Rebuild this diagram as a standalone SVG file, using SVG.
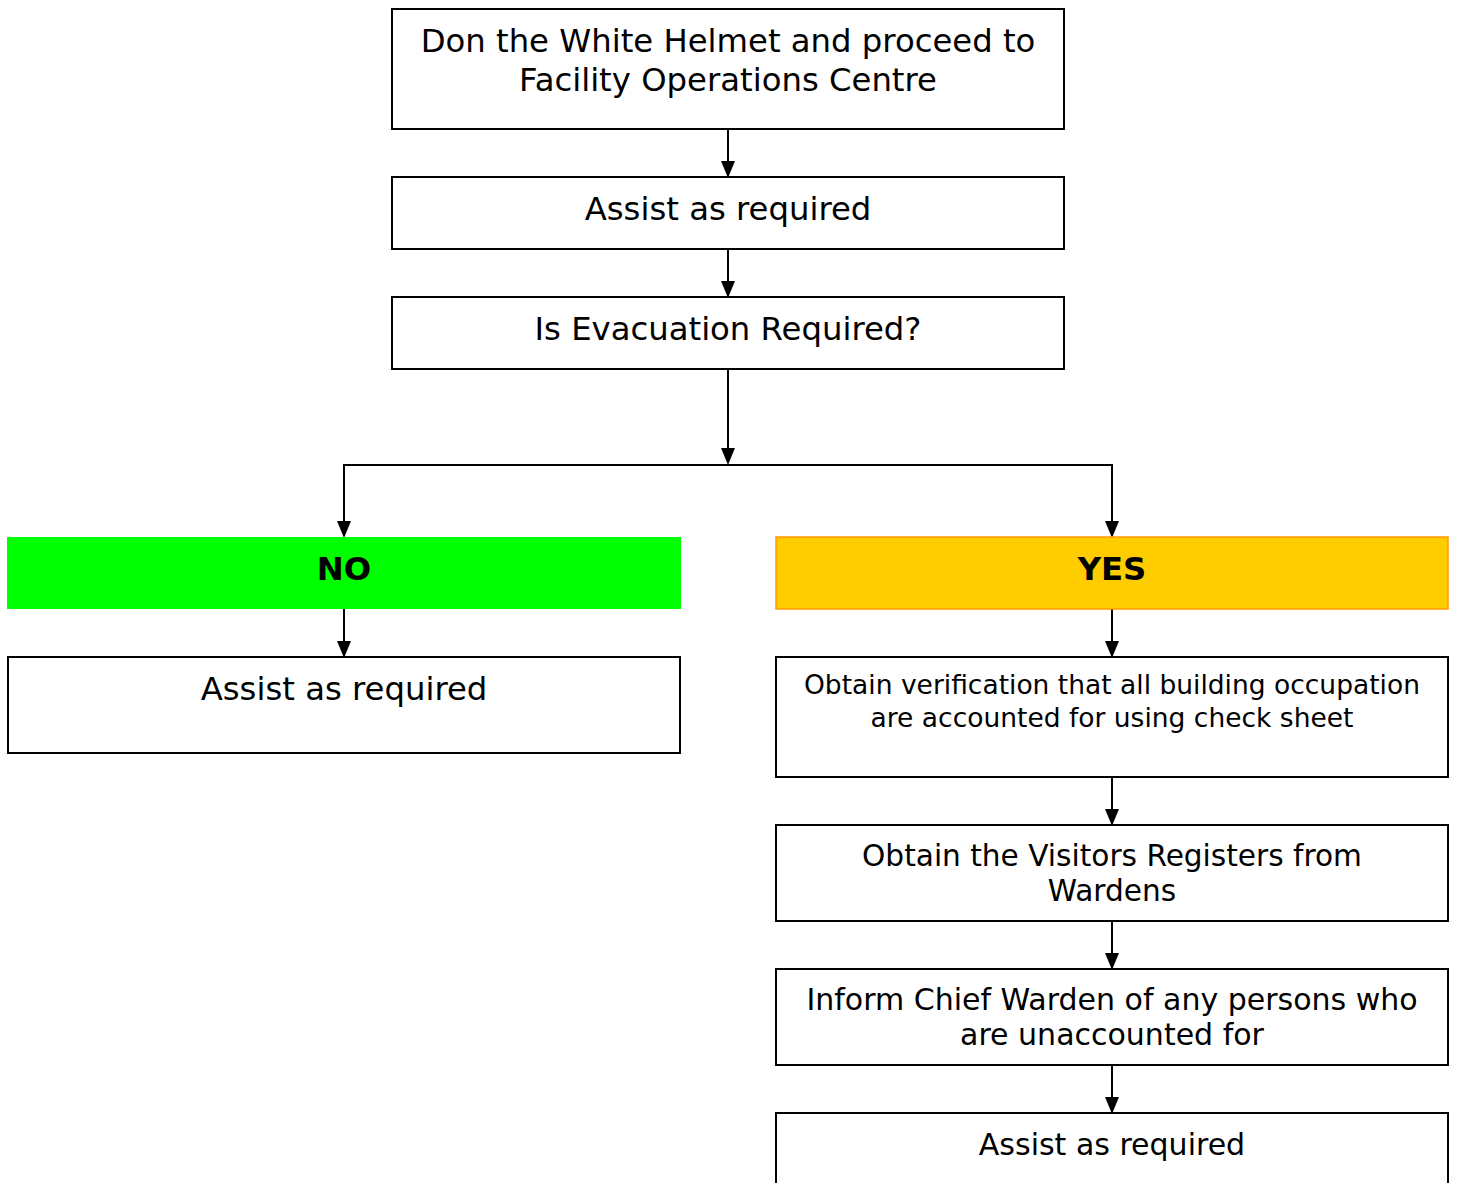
<svg xmlns="http://www.w3.org/2000/svg" width="1459" height="1183" viewBox="0 0 1459 1183">
<style>
.box{fill:#fff;stroke:#000;stroke-width:2}
.t{font-family:"DejaVu Sans",Verdana,sans-serif;font-size:30px;fill:#000;text-anchor:middle}
.l{font-size:32.3px}
.s{font-size:26.5px}
.b{font-weight:bold}
.c{fill:none;stroke:#000;stroke-width:2}
.h{fill:#000}
</style>
<defs>
<path id="ah" d="M-7,-16 L7,-16 L0,1 Z"/>
</defs>
<rect width="1459" height="1183" fill="#fff"/>
<g id="connectors">
<path class="c" d="M728,129 V165"/>
<path class="c" d="M728,249 V285"/>
<path class="c" d="M728,369 V452"/>
<path class="c" d="M344,525 V465 H1112 V525"/>
<path class="c" d="M344,609 V645"/>
<path class="c" d="M1112,609 V645"/>
<path class="c" d="M1112,777 V813"/>
<path class="c" d="M1112,921 V957"/>
<path class="c" d="M1112,1065 V1101"/>
<use class="h" href="#ah" x="728" y="177"/>
<use class="h" href="#ah" x="728" y="297"/>
<use class="h" href="#ah" x="728" y="464"/>
<use class="h" href="#ah" x="344" y="537"/>
<use class="h" href="#ah" x="1112" y="537"/>
<use class="h" href="#ah" x="344" y="657"/>
<use class="h" href="#ah" x="1112" y="657"/>
<use class="h" href="#ah" x="1112" y="825"/>
<use class="h" href="#ah" x="1112" y="969"/>
<use class="h" href="#ah" x="1112" y="1113"/>
</g>
<g id="n1"><rect class="box" x="392" y="9" width="672" height="120"/><text class="t l" x="728" y="52">Don the White Helmet and proceed to</text><text class="t l" x="728" y="91">Facility Operations Centre</text></g>
<g id="n2"><rect class="box" x="392" y="177" width="672" height="72"/><text class="t l" x="728" y="220">Assist as required</text></g>
<g id="n3"><rect class="box" x="392" y="297" width="672" height="72"/><text class="t l" x="728" y="340">Is Evacuation Required?</text></g>
<g id="no"><rect x="7" y="537" width="674" height="72" fill="#00ff00"/><text class="t l b" x="344" y="580">NO</text></g>
<g id="yes"><rect x="776" y="537" width="672" height="72" fill="#ffcc00" stroke="#ff9900" stroke-width="1.5"/><text class="t l b" x="1112" y="580">YES</text></g>
<g id="no1"><rect class="box" x="8" y="657" width="672" height="96"/><text class="t l" x="344" y="700">Assist as required</text></g>
<g id="y1"><rect class="box" x="776" y="657" width="672" height="120"/><text class="t s" x="1112" y="694">Obtain verification that all building occupation</text><text class="t s" x="1112" y="727">are accounted for using check sheet</text></g>
<g id="y2"><rect class="box" x="776" y="825" width="672" height="96"/><text class="t" x="1112" y="866" style="font-size:29.6px">Obtain the Visitors Registers from</text><text class="t" x="1112" y="901" style="font-size:29.6px">Wardens</text></g>
<g id="y3"><rect class="box" x="776" y="969" width="672" height="96"/><text class="t" x="1112" y="1010">Inform Chief Warden of any persons who</text><text class="t" x="1112" y="1045">are unaccounted for</text></g>
<g id="y4"><rect class="box" x="776" y="1113" width="672" height="96"/><text class="t" x="1112" y="1155">Assist as required</text></g>
</svg>
